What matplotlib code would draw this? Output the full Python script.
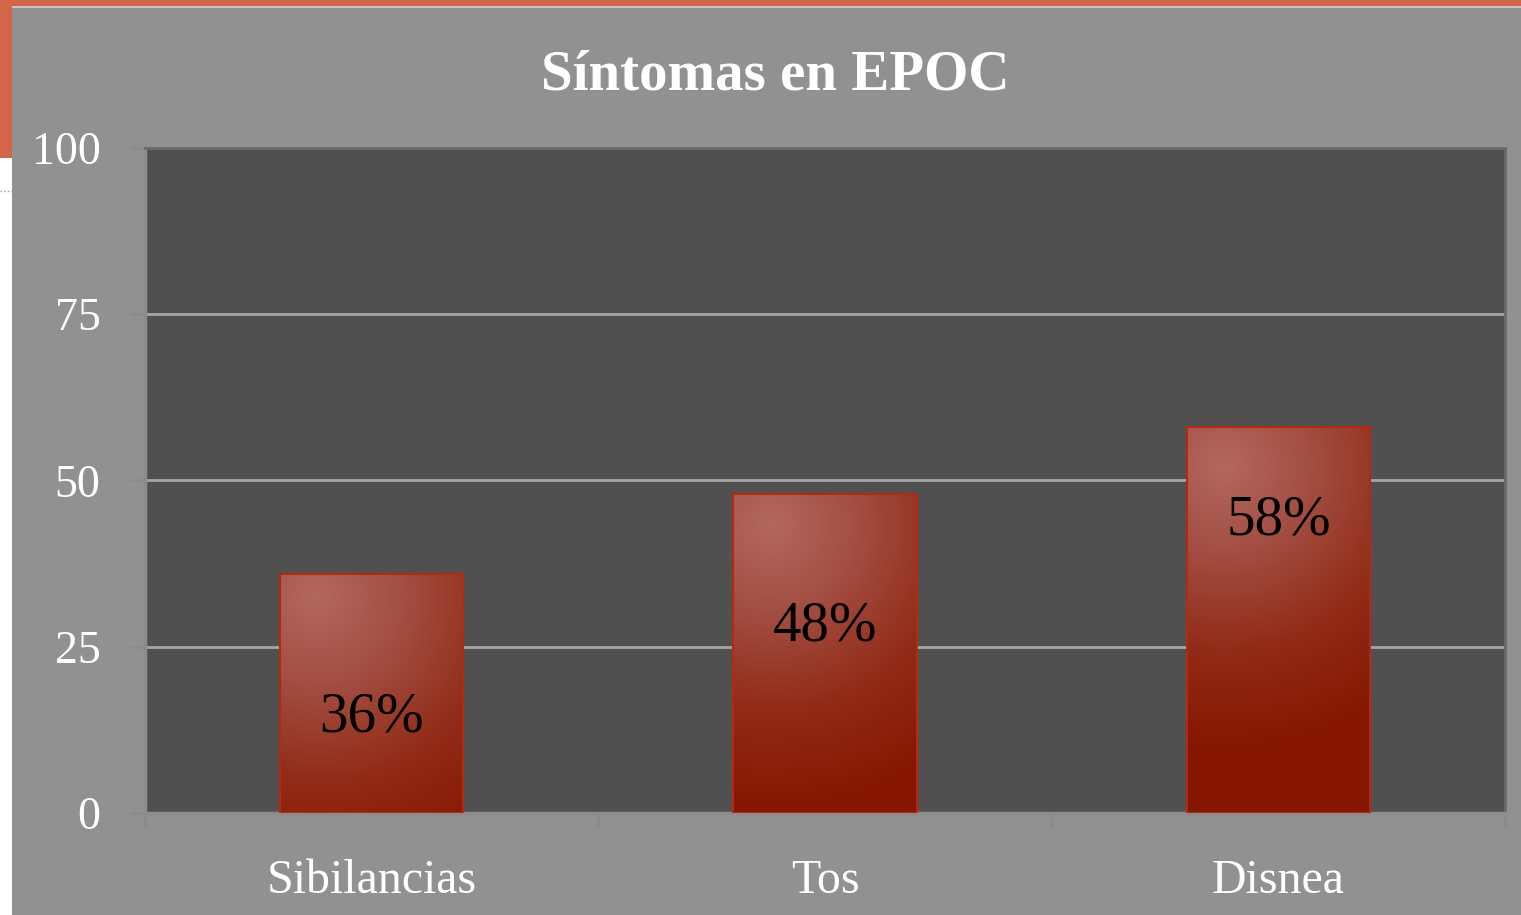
import numpy as np
import matplotlib.pyplot as plt
from matplotlib.patches import Rectangle
from matplotlib.colors import LinearSegmentedColormap

categories = ['Sibilancias', 'Tos', 'Disnea']
values = [36, 48, 58]
bar_labels = ['36%', '48%', '58%']
label_y = [14.3, 28, 44]
yticks = [0, 25, 50, 75, 100]

W, H = 1521, 915
fig = plt.figure(figsize=(W / 100, H / 100), dpi=100)
fig.patch.set_facecolor('white')

# slide decoration behind the chart
fig.patches.append(Rectangle((0, 0), 1, 1, transform=fig.transFigure,
                             facecolor='#d4644a', edgecolor='none', zorder=-5))
fig.patches.append(Rectangle((0, 0), 12 / W, (H - 158) / H, transform=fig.transFigure,
                             facecolor='white', edgecolor='none', zorder=-4))
fig.lines.append(plt.Line2D([0, 12 / W], [(H - 191) / H] * 2, transform=fig.transFigure,
                            color='#8a9aa0', lw=1, ls=':', zorder=-3))
fig.patches.append(Rectangle((12 / W, 0), 1, (H - 6) / H, transform=fig.transFigure,
                             facecolor='#c4c4c4', edgecolor='none', zorder=-3))
fig.patches.append(Rectangle((12 / W, 0), 1, (H - 8) / H, transform=fig.transFigure,
                             facecolor='#919191', edgecolor='none', zorder=-2))

ax = fig.add_axes([145 / W, (H - 813) / H, (1505 - 145) / W, (813 - 148) / H])
ax.set_facecolor('#505050')

x = np.arange(len(categories))
bars = ax.bar(x, values, width=0.405, color='#8a1a00', edgecolor='none', zorder=3)

# radial shading inside each bar, in pixel units
cmap = LinearSegmentedColormap.from_list(
    'bar', [(0, '#b3685f'), (0.3, '#a34e42'), (0.65, '#912a16'), (1, '#851600')])
px_per_unit = (813 - 148) / 100
for b in bars:
    x0, w, h = b.get_x(), b.get_width(), b.get_height()
    wp, hp = 184, h * px_per_unit
    gy, gx = np.mgrid[0:1:300j, 0:1:150j]
    dist = np.hypot((gx - 0.2) * wp, (gy - 0.1) * hp) / 290
    im = ax.imshow(dist, cmap=cmap, vmin=0, vmax=1.0, origin='upper',
                   extent=(x0, x0 + w, 0, h), aspect='auto', zorder=3.5,
                   interpolation='bilinear')
    im.set_clip_path(b)
    ax.add_patch(Rectangle((x0, 0), w, h, facecolor='none', edgecolor='#b42a10',
                           lw=1.5, zorder=4))

for xi, lab, ly in zip(x, bar_labels, label_y):
    ax.text(xi, ly, lab, ha='center', va='center', fontsize=41,
            family='Liberation Serif', color='black', zorder=5)

ax.set_xlim(-0.5, len(categories) - 0.5)
ax.set_ylim(0, 100)
ax.set_yticks(yticks)
ax.set_yticklabels([str(t) for t in yticks])
ax.set_xticks(x)
ax.set_xticklabels(categories)
ax.set_xticks([-0.5, 0.5, 1.5, 2.5], minor=True)

for t in yticks[1:-1]:
    ax.axhline(t, color='#a6a6a6', lw=2, zorder=1)

for s in ['top', 'right']:
    ax.spines[s].set_color('#6a6a6a')
    ax.spines[s].set_linewidth(2)
for s in ['left', 'bottom']:
    ax.spines[s].set_color('#8c8c8c')
    ax.spines[s].set_linewidth(2.5)

ax.tick_params(axis='y', length=11, width=2, color='#8c8c8c', pad=21,
               labelsize=33, labelcolor='white')
ax.tick_params(axis='x', which='major', length=0, pad=33,
               labelsize=34.5, labelcolor='white')
ax.tick_params(axis='x', which='minor', length=11, width=2, color='#8c8c8c')
for lab in ax.get_xticklabels() + ax.get_yticklabels():
    lab.set_family('Liberation Serif')

fig.text(775 / W, (H - 75) / H, 'Síntomas en EPOC', ha='center', va='center',
         fontsize=41, fontweight='bold', family='Liberation Serif', color='white')

fig.savefig('out.png', dpi=100, facecolor=fig.get_facecolor())
